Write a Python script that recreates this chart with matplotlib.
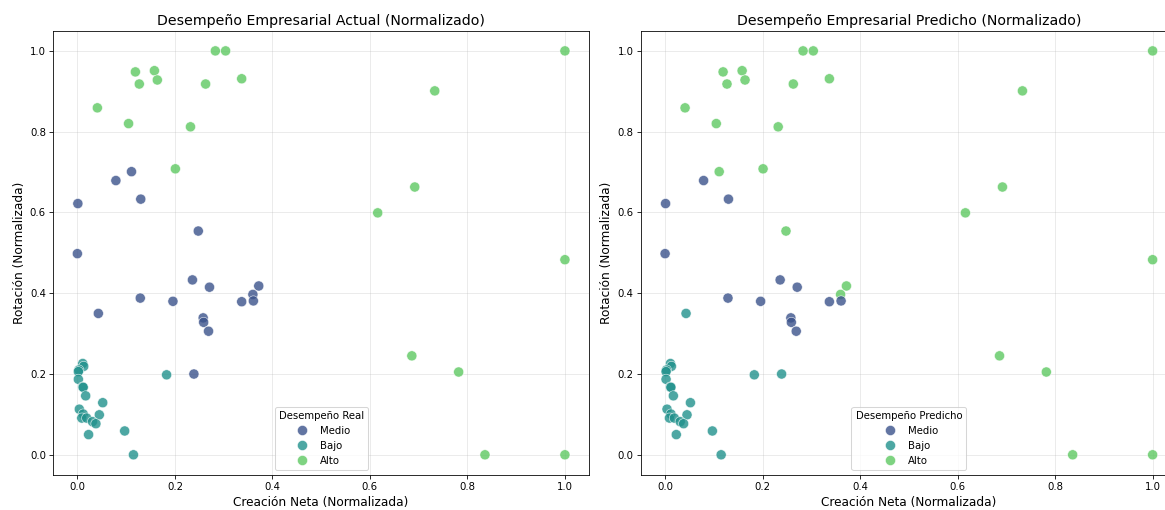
import matplotlib
matplotlib.use("Agg")
import matplotlib.pyplot as plt
import seaborn as sns
import pandas as pd

# Normalized data: Creación Neta (x), Rotación (y)
x_vals = [
    # Medio (actual)
    0.001, 0.000, 0.079, 0.111, 0.130, 0.248, 0.236, 0.271, 0.372, 0.360,
    0.361, 0.337, 0.129, 0.196, 0.043, 0.258, 0.259, 0.269, 0.239,
    # Bajo (actual)
    0.183, 0.011, 0.013, 0.003, 0.002, 0.002, 0.011, 0.012, 0.017, 0.052,
    0.004, 0.012, 0.045, 0.009, 0.019, 0.031, 0.038, 0.023, 0.097, 0.115,
    # Alto (actual)
    1.000, 1.000, 1.000, 0.836, 0.782, 0.686, 0.692, 0.733, 0.616, 0.283,
    0.304, 0.119, 0.158, 0.127, 0.164, 0.263, 0.337, 0.041, 0.105, 0.232,
    0.201,
]
y_vals = [
    0.622, 0.498, 0.679, 0.701, 0.633, 0.554, 0.433, 0.415, 0.418, 0.397,
    0.381, 0.379, 0.388, 0.380, 0.350, 0.339, 0.328, 0.306, 0.200,
    0.198, 0.226, 0.219, 0.210, 0.206, 0.187, 0.168, 0.167, 0.146, 0.129,
    0.113, 0.101, 0.099, 0.091, 0.091, 0.082, 0.077, 0.050, 0.059, 0.000,
    1.000, 0.483, 0.000, 0.000, 0.205, 0.245, 0.663, 0.901, 0.599, 1.000,
    1.000, 0.948, 0.951, 0.918, 0.928, 0.918, 0.931, 0.859, 0.820, 0.812,
    0.708,
]
actual = (["Medio"] * 19) + (["Bajo"] * 20) + (["Alto"] * 21)
predicted = [
    "Medio", "Medio", "Medio", "Alto", "Medio", "Alto", "Medio", "Medio", "Alto", "Alto",
    "Medio", "Medio", "Medio", "Medio", "Bajo", "Medio", "Medio", "Medio", "Bajo",
] + (["Bajo"] * 20) + (["Alto"] * 21)

hue_order = ["Medio", "Bajo", "Alto"]
palette = dict(zip(hue_order, sns.color_palette("viridis", 3)))

df = pd.DataFrame({"x": x_vals, "y": y_vals, "real": actual, "pred": predicted})

W, H = 1165, 510
dpi = W / 16
fig = plt.figure(figsize=(16, H / dpi), dpi=dpi)

ax1 = fig.add_axes([53 / W, 1 - 475 / H, 536.3 / W, 444.3 / H])
ax2 = fig.add_axes([640.7 / W, 1 - 475 / H, 536.3 / W, 444.3 / H])

for ax, col, title, ltitle in [
    (ax1, "real", "Desempeño Empresarial Actual (Normalizado)", "Desempeño Real"),
    (ax2, "pred", "Desempeño Empresarial Predicho (Normalizado)", "Desempeño Predicho"),
]:
    sns.scatterplot(data=df, x="x", y="y", hue=col, hue_order=hue_order,
                    palette=palette, s=100, alpha=0.8, edgecolor="white",
                    linewidth=0.6, ax=ax)
    ax.set_title(title, fontsize=14)
    ax.set_xlabel("Creación Neta (Normalizada)", fontsize=12)
    ax.set_ylabel("Rotación (Normalizada)", fontsize=12)
    ax.grid(True, alpha=0.3)
    ax.set_axisbelow(True)
    ax.set_xticks([0.0, 0.2, 0.4, 0.6, 0.8, 1.0])
    ax.set_yticks([0.0, 0.2, 0.4, 0.6, 0.8, 1.0])
    ax.legend(title=ltitle, loc="lower center")

fig.savefig("out.png", dpi=dpi)
